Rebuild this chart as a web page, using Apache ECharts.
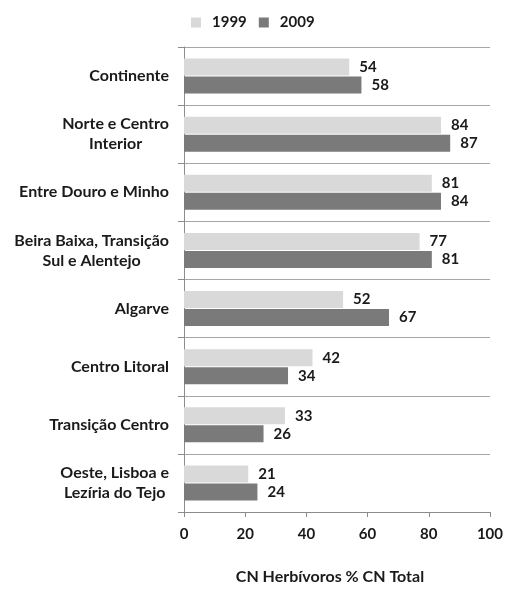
<!DOCTYPE html>
<html>
<head>
<meta charset="utf-8">
<script src="https://cdn.jsdelivr.net/npm/echarts@6/dist/echarts.min.js"></script>
<style>
  html, body { margin: 0; padding: 0; background: #fff; }
  #chart { width: 506px; height: 590px; }
</style>
</head>
<body>
<div id="chart"></div>
<script>
// Regions, listed top to bottom
const regions = [
  'Continente',
  'Norte e Centro\nInterior',
  'Entre Douro e Minho',
  'Beira Baixa, Transição\nSul e Alentejo',
  'Algarve',
  'Centro Litoral',
  'Transição Centro',
  'Oeste, Lisboa e\nLezíria do Tejo'
];
const seriesNames = ['1999', '2009'];
const values1999 = [54, 84, 81, 77, 52, 42, 33, 21];
const values2009 = [58, 87, 84, 81, 67, 34, 26, 24];
const axisTitle = 'CN Herbívoros % CN Total';

const FONT = 'Lato, "Open Sans", sans-serif';
const TEXT = '#1a1a1a';

const labelStyle = {
  show: true,
  position: 'right',
  distance: 10,
  fontFamily: FONT,
  fontWeight: 'bold',
  fontSize: 15,
  color: TEXT
};

const chart = echarts.init(document.getElementById('chart'), null, { renderer: 'canvas' });
chart.setOption({
  animation: false,
  backgroundColor: '#fff',
  legend: {
    top: 15,
    left: 191,
    padding: 0,
    itemWidth: 10,
    itemHeight: 10,
    itemGap: 12,
    icon: 'rect',
    textStyle: {
      fontFamily: FONT, fontWeight: 'bold', fontSize: 15, color: TEXT,
      padding: [0, 0, 0, 6]
    },
    data: seriesNames
  },
  grid: { left: 184, right: 15, top: 47, bottom: 71, containLabel: false },
  xAxis: {
    type: 'value',
    min: 0, max: 100, interval: 20,
    axisLine: { show: true, lineStyle: { color: '#8c8c8c', width: 1 } },
    axisTick: { show: true, length: 5, lineStyle: { color: '#8c8c8c' } },
    splitLine: { show: false },
    axisLabel: {
      margin: 15,
      fontFamily: FONT, fontWeight: 'bold', fontSize: 15, color: TEXT
    },
    name: axisTitle,
    nameLocation: 'middle',
    nameGap: 57,
    nameTextStyle: {
      fontFamily: FONT, fontWeight: 'bold', fontSize: 16, color: TEXT,
      padding: [0, 14, 0, 0]
    }
  },
  yAxis: {
    type: 'category',
    inverse: true,
    data: regions,
    axisLine: { show: true, lineStyle: { color: '#8c8c8c', width: 1 } },
    axisTick: { show: true, length: 6, lineStyle: { color: '#8c8c8c' } },
    splitLine: {
      show: true,
      showMinLine: true,
      showMaxLine: true,
      lineStyle: { color: '#a6a6a6', width: 1 }
    },
    axisLabel: {
      margin: 15,
      formatter: v => v.split('\n').map(l => '{c|' + l + '}').join('\n'),
      rich: {
        c: {
          align: 'center',
          fontFamily: FONT, fontWeight: 'bold', fontSize: 16, color: TEXT,
          lineHeight: 20
        }
      }
    }
  },
  series: [
    {
      name: seriesNames[0],
      type: 'bar',
      data: values1999,
      barWidth: 17,
      barGap: '6%',
      itemStyle: { color: '#d9d9d9' },
      label: labelStyle
    },
    {
      name: seriesNames[1],
      type: 'bar',
      data: values2009,
      barWidth: 17,
      barGap: '6%',
      itemStyle: { color: '#7a7a7a' },
      label: labelStyle
    }
  ]
});
</script>
</body>
</html>
